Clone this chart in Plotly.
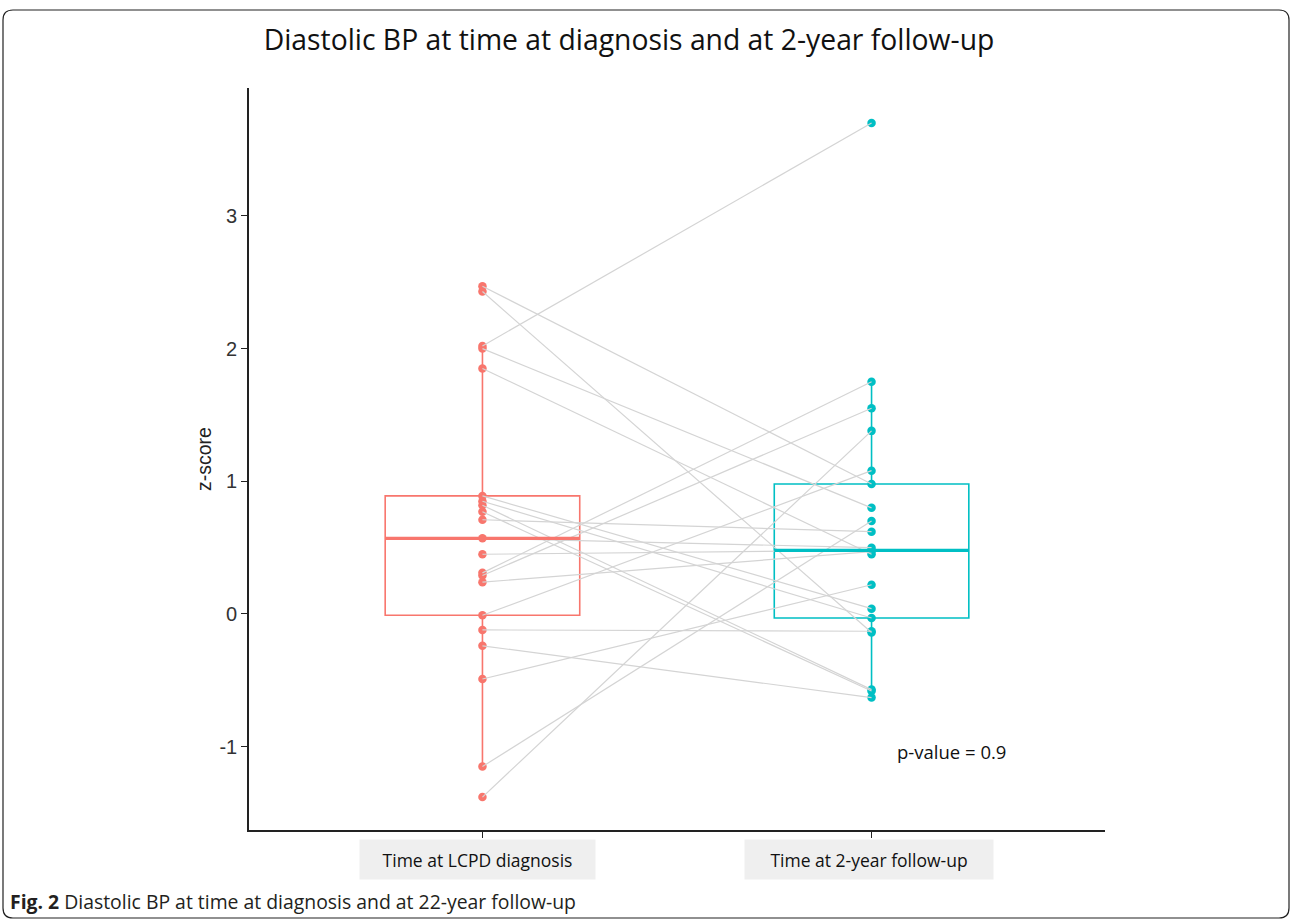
import numpy as np
import plotly.graph_objects as go

# ---- data ----
groups = ["Time at LCPD diagnosis", "Time at 2-year follow-up"]
group_pos = [1, 2]
diagnosis = [2.47, 2.43, 2.02, 2.00, 1.85, 0.89, 0.85, 0.82, 0.77, 0.71, 0.57,
             0.45, 0.31, 0.29, 0.24, -0.01, -0.12, -0.24, -0.49, -1.15, -1.38]
followup = [0.98, -0.14, 3.70, 0.80, 0.45, 0.04, -0.03, -0.57, -0.58, 0.62, 0.50,
            0.48, 1.75, 1.55, 0.47, 1.08, -0.13, -0.63, 0.22, 0.70, 1.38]
colors = ["#F8766D", "#00BFC4"]
y_ticks = [-1, 0, 1, 2, 3]
y_ticktext = ["-1", "0", "1", "2", "3"]
p_text = "p-value = 0.9"

W, H = 1293, 921
ML, MR, MT, MB = 249, 188, 88, 91
PW, PH = W - ML - MR, H - MT - MB

fig = go.Figure()

# paired lines
for a, b in zip(diagnosis, followup):
    fig.add_trace(go.Scatter(x=group_pos, y=[a, b], mode="lines",
                             line=dict(color="#d4d4d4", width=1.2),
                             hoverinfo="skip", showlegend=False))

# boxes with points
for pos, vals, col in zip(group_pos, [diagnosis, followup], colors):
    fig.add_trace(go.Box(x=[pos] * len(vals), y=vals, width=0.5,
                         boxpoints="all", jitter=0, pointpos=0,
                         quartilemethod="inclusive", whiskerwidth=0,
                         fillcolor="rgba(0,0,0,0)",
                         line=dict(color=col, width=1.6),
                         marker=dict(color=col, size=8.5),
                         showlegend=False))
    med = float(np.median(vals))
    fig.add_trace(go.Scatter(x=[pos - 0.25, pos + 0.25], y=[med, med], mode="lines",
                             line=dict(color=col, width=3.2), hoverinfo="skip",
                             showlegend=False))

# category labels with grey background
label_w = [233, 246]
label_shift = [-4.5, -3]
for pos, g, w, s in zip(group_pos, groups, label_w, label_shift):
    fig.add_annotation(x=pos, xref="x", xshift=s, y=-29 / PH, yref="paper", text=g,
                       showarrow=False, bgcolor="#efefef", width=w, height=37,
                       font=dict(family="Open Sans", size=17.5, color="#111"),
                       xanchor="center", yanchor="middle")

fig.add_annotation(x=2.06, xref="x", y=-1.04, yref="y", text=p_text, showarrow=False,
                   xanchor="left", yanchor="middle",
                   font=dict(family="Open Sans", size=18.5, color="#111"))

# caption
fig.add_annotation(x=(8 - ML) / PW, xref="paper", y=-(902 - (H - MB)) / PH, yref="paper",
                   text="<b>Fig. 2</b> Diastolic BP at time at diagnosis and at 22-year follow-up",
                   showarrow=False, xanchor="left", yanchor="middle",
                   font=dict(family="Open Sans", size=19.4, color="#231f20"))


# frame
def px_x(p):
    return (p - ML) / PW


def px_y(p):
    return (H - MB - p) / PH


x0, x1, y0, y1, r = 3, 1289, 10, 918, 10
path = (f"M {px_x(x0 + r)},{px_y(y0)} L {px_x(x1 - r)},{px_y(y0)} "
        f"Q {px_x(x1)},{px_y(y0)} {px_x(x1)},{px_y(y0 + r)} "
        f"L {px_x(x1)},{px_y(y1 - r)} Q {px_x(x1)},{px_y(y1)} {px_x(x1 - r)},{px_y(y1)} "
        f"L {px_x(x0 + r)},{px_y(y1)} Q {px_x(x0)},{px_y(y1)} {px_x(x0)},{px_y(y1 - r)} "
        f"L {px_x(x0)},{px_y(y0 + r)} Q {px_x(x0)},{px_y(y0)} {px_x(x0 + r)},{px_y(y0)} Z")
fig.add_shape(type="path", path=path, xref="paper", yref="paper",
              line=dict(color="#222", width=1.2), layer="below")

fig.update_layout(
    width=W, height=H,
    margin=dict(l=ML, r=MR, t=MT, b=MB, autoexpand=False),
    paper_bgcolor="white", plot_bgcolor="white",
    title=dict(text="Diastolic BP at time at diagnosis and at 2-year follow-up",
               x=629 / W, xref="container", xanchor="center",
               y=1 - 40 / H, yref="container", yanchor="middle",
               font=dict(family="Open Sans", size=28.3, color="#111")),
    xaxis=dict(range=[0.4, 2.6], tickvals=group_pos, showticklabels=False,
               ticks="outside", ticklen=6, tickcolor="#222", tickwidth=1.3,
               showline=True, linecolor="#222", linewidth=1.6, showgrid=False,
               zeroline=False, fixedrange=True),
    yaxis=dict(range=[-1.628, 3.964], tickvals=y_ticks, ticktext=y_ticktext,
               ticks="outside", ticklen=6,
               tickcolor="#222", tickwidth=1.3, showline=True, linecolor="#222",
               linewidth=1.6, showgrid=False, zeroline=False,
               tickfont=dict(family="Liberation Sans", size=20, color="#333"),
               title=dict(text="z-score", standoff=3,
                          font=dict(family="Liberation Sans", size=19.5, color="#222"))),
)

fig.write_html("out.html", config={"displayModeBar": False},
               post_script="document.body.style.margin='0';document.body.style.padding='0';")
